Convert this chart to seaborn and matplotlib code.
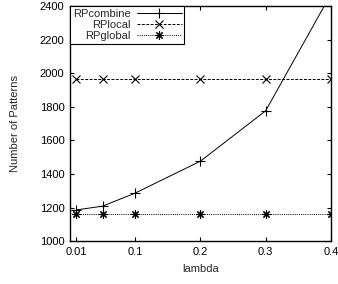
import pandas as pd
import numpy as np
import matplotlib
matplotlib.use("Agg")
import matplotlib.pyplot as plt
import seaborn as sns

# data
lam = [0.01, 0.05, 0.1, 0.2, 0.3, 0.4]
rp_combine = [1186, 1208, 1286, 1476, 1776, 2470]
rp_local = [1965, 1965, 1965, 1965, 1965, 1965]
rp_global = [1160, 1160, 1160, 1160, 1160, 1160]

x_ticks = [0.01, 0.1, 0.2, 0.3, 0.4]
x_ticklabels = ["0.01", "0.1", "0.2", "0.3", "0.4"]
y_ticks = [1000, 1200, 1400, 1600, 1800, 2000, 2200, 2400]

sns.set_style("ticks")
plt.rcParams['font.family'] = ['Liberation Sans', 'DejaVu Sans']
plt.rcParams['font.size'] = 8

df = pd.DataFrame({'lambda': lam, 'RPcombine': rp_combine,
                   'RPlocal': rp_local, 'RPglobal': rp_global})

fig = plt.figure(figsize=(3.38, 2.84), dpi=100)
ax = fig.add_axes([0.207, 0.151, 0.772, 0.828])

styles = {
    'RPcombine': dict(linestyle='-', marker='+', ms=6.5),
    'RPlocal': dict(linestyle=(0, (3, 1.5)), marker='x', ms=5.5),
    'RPglobal': dict(linestyle=(0, (1, 1.2)), marker=(8, 2, 0), ms=6),
}
for name, st in styles.items():
    sns.lineplot(data=df, x='lambda', y=name, ax=ax, color='black', lw=0.7,
                 mew=0.8, mec='black', mfc='black', label=name, **st)

ax.set_xlim(0, 0.4)
ax.set_ylim(1000, 2400)
ax.set_xticks(x_ticks)
ax.set_xticklabels(x_ticklabels)
ax.set_yticks(y_ticks)
ax.tick_params(direction='in', top=True, right=True, length=3, width=0.8,
               labelsize=8, pad=4, colors='black')
for s in ax.spines.values():
    s.set_linewidth(1.0)
    s.set_color('black')
ax.set_xlabel('lambda', fontsize=8, labelpad=5)
ax.set_ylabel('Number of Patterns', fontsize=8, labelpad=14)

leg = ax.legend(loc='upper left', markerfirst=False, frameon=True, fancybox=False,
                edgecolor='black', framealpha=1, borderaxespad=0, fontsize=8,
                handlelength=4.0, handletextpad=0.6, labelspacing=0.1,
                borderpad=0.25)
leg.get_frame().set_linewidth(0.8)

fig.savefig('out.png', dpi=100)
